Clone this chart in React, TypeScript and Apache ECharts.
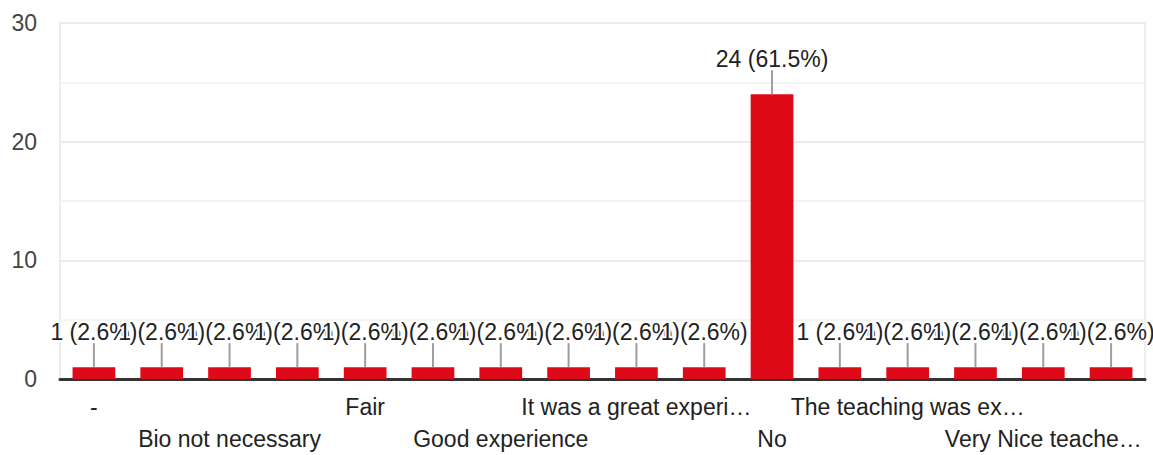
import React, { useEffect, useRef } from "react";
import * as echarts from "echarts";

const categories = [
  "-",
  "Average",
  "Bio not necessary",
  "Excellent",
  "Fair",
  "Good",
  "Good experience",
  "Great",
  "It was a great experi…",
  "Nice",
  "No",
  "Nothing",
  "The teaching was ex…",
  "Very good",
  "Very Nice teache…",
  "Yes",
];
const counts = [1, 1, 1, 1, 1, 1, 1, 1, 1, 1, 24, 1, 1, 1, 1, 1];
const yTicks = [0, 10, 20, 30];

const FONT = "'Liberation Sans', Arial, sans-serif";

export default function App() {
  const ref = useRef<HTMLDivElement>(null);
  useEffect(() => {
    if (!ref.current) return;
    const chart = echarts.init(ref.current, undefined, { renderer: "svg" });
    const total = counts.reduce((a, b) => a + b, 0);
    chart.setOption({
      animation: false,
      grid: {
        left: 60,
        right: 8,
        top: 23,
        bottom: 75,
        show: true,
        borderColor: "#ececec",
        borderWidth: 2,
      },
      xAxis: {
        type: "category",
        data: categories,
        axisLine: { show: true, lineStyle: { color: "#333", width: 3 } },
        axisTick: { show: false },
        axisLabel: {
          interval: 0,
          hideOverlap: false,
          margin: 12,
          fontSize: 23,
          lineHeight: 32,
          color: "#222",
          fontFamily: FONT,
          formatter: (val: string, idx: number) =>
            idx % 2 === 1 ? "" : idx % 4 === 2 ? "\n" + val : val,
        },
      },
      yAxis: {
        type: "value",
        min: yTicks[0],
        max: yTicks[yTicks.length - 1],
        interval: 10,
        axisLine: { show: false },
        axisTick: { show: false },
        axisLabel: {
          margin: 23,
          fontSize: 23,
          color: "#444",
          fontFamily: FONT,
        },
        splitLine: { show: true, lineStyle: { color: "#ebebeb", width: 2 } },
        minorSplitLine: { show: true, lineStyle: { color: "#f4f4f4", width: 2 } },
        minorTick: { show: false, splitNumber: 2 },
      },
      series: [
        {
          type: "bar",
          data: counts,
          barWidth: "63%",
          itemStyle: { color: "#df0a18" },
          z: 2,
          label: {
            show: true,
            position: "top",
            distance: 24,
            fontSize: 23,
            lineHeight: 22,
            color: "#222",
            fontFamily: FONT,
            textBorderColor: "#fff",
            textBorderWidth: 4,
            formatter: (p: any) =>
              `${p.value} (${((p.value / total) * 100).toFixed(1)}%)`,
          },
        },
        {
          type: "custom",
          data: counts.map((v, i) => [i, v]),
          encode: { x: 0, y: 1 },
          z: 3,
          silent: true,
          renderItem: (params: any, api: any) => {
            const pt = api.coord([api.value(0), api.value(1)]);
            return {
              type: "line",
              shape: { x1: pt[0], y1: pt[1], x2: pt[0], y2: pt[1] - 24 },
              style: { stroke: "#9e9e9e", lineWidth: 2 },
            };
          },
        },
      ],
    });
    return () => chart.dispose();
  }, []);
  return (
    <div
      ref={ref}
      style={{ position: "absolute", left: 0, top: 0, width: 1153, height: 455 }}
    />
  );
}
